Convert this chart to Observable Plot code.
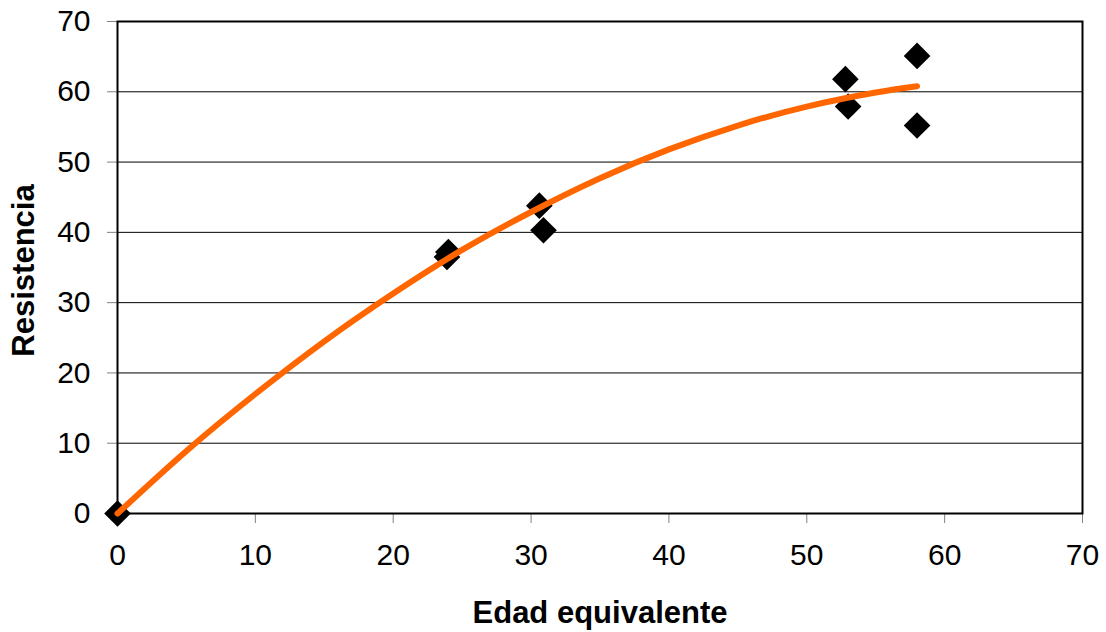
<!DOCTYPE html>
<html>
<head>
<meta charset="utf-8">
<script src="https://cdn.jsdelivr.net/npm/d3@7"></script>
<script src="https://cdn.jsdelivr.net/npm/@observablehq/plot@0.6"></script>
<style>
  html, body { margin: 0; padding: 0; background: #fff; }
</style>
</head>
<body>
<div id="chart"></div>
<script>
// Measured points
const edad = [0, 24.0, 23.9, 30.6, 30.9, 52.8, 53.0, 58.0, 58.0];
const resistencia = [0, 37.2, 36.5, 43.8, 40.3, 61.8, 57.9, 65.1, 55.2];

// Fitted trend curve
const curveX = [0, 5, 10, 15, 20, 25, 30, 35, 40, 45, 50, 55, 58];
const curveY = [0, 8.9, 17.0, 24.5, 31.3, 37.5, 42.9, 47.7, 51.8, 55.2, 57.9, 59.9, 60.8];

const ticks = [0, 10, 20, 30, 40, 50, 60, 70];
const xTitle = "Edad equivalente";
const yTitle = "Resistencia";

const pts = edad.map((x, i) => ({x, y: resistencia[i]}));
const curve = curveX.map((x, i) => ({x, y: curveY[i]}));

const chart = Plot.plot({
  width: 1106,
  height: 632,
  marginLeft: 117,
  marginRight: 24,
  marginTop: 21,
  marginBottom: 119,
  style: {fontFamily: "'Liberation Sans', Arial, sans-serif", fontSize: "30px", color: "black", background: "white"},
  x: {domain: [0, 70]},
  y: {domain: [0, 70]},
  marks: [
    Plot.gridY(ticks, {stroke: "black", strokeOpacity: 1, strokeWidth: 1}),
    Plot.axisY(ticks, {tickSize: 10, tickPadding: 17, stroke: "#808080", label: null, fill: "black"}),
    Plot.axisX(ticks, {tickSize: 10, tickPadding: 20, stroke: "#808080", label: null, fill: "black"}),
    Plot.frame({stroke: "black", strokeWidth: 2}),
    Plot.dot(pts, {x: "x", y: "y", symbol: "diamond2", r: 12, fill: "black", stroke: "none"}),
    Plot.line(curve, {x: "x", y: "y", curve: "natural", stroke: "#FF6600", strokeWidth: 6, strokeLinecap: "round"}),
    Plot.text([xTitle], {frameAnchor: "bottom", lineAnchor: "bottom", dy: 109, fontWeight: "bold", fontSize: 31, fill: "black"}),
    Plot.text([yTitle], {frameAnchor: "left", textAnchor: "middle", lineAnchor: "bottom", rotate: -90, dx: -84, dy: 3, fontWeight: "bold", fontSize: 31, fill: "black"})
  ]
});
document.getElementById("chart").appendChild(chart);
</script>
</body>
</html>
